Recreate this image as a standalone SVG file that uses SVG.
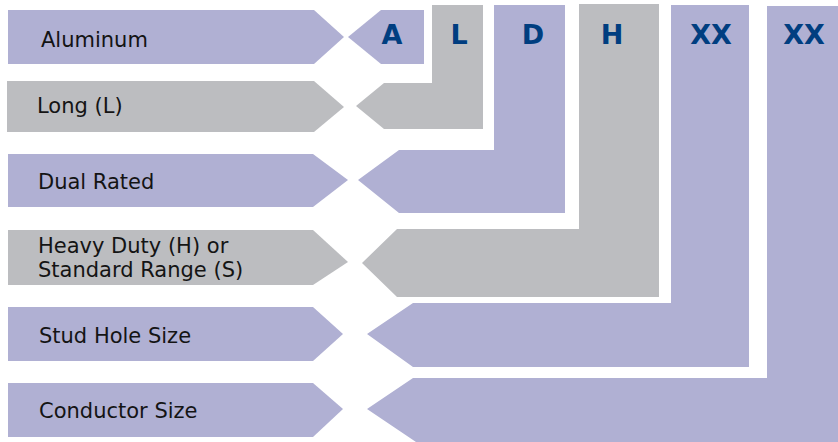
<svg xmlns="http://www.w3.org/2000/svg" width="838" height="442" viewBox="0 0 838 442">
<style>
.p{fill:#B0B0D3}
.g{fill:#BCBDC0}
.lbl{font-family:"DejaVu Sans","Liberation Sans",sans-serif;font-size:21px;fill:#141414}
.code{font-family:"DejaVu Sans","Liberation Sans",sans-serif;font-size:27px;font-weight:bold;fill:#003E80;text-anchor:middle}
</style>
<rect width="838" height="442" fill="#FFFFFF"/>
<g id="connectors"></g>
<g id="aluminum">
<polygon class="p" points="8,10 314,10 344,37 314,64 8,64"/>
<text class="lbl" x="41" y="47">Aluminum</text>
</g>
<g id="code-A">
<polygon class="p" points="348,37 381,10 424,10 424,64 381,64"/>
<text class="code" x="392" y="44">A</text>
</g>
<g id="long">
<polygon class="g" points="7,81 314,81 344,107 314,132 7,132"/>
<text class="lbl" x="37" y="113">Long (L)</text>
</g>
<g id="code-L">
<polygon class="g" points="432,5 483,5 483,129 384,129 356,106 384,83 432,83"/>
<text class="code" x="459" y="44">L</text>
</g>
<g id="dual-rated">
<polygon class="p" points="8,154 313,154 348,180 313,207 8,207"/>
<text class="lbl" x="38" y="189">Dual Rated</text>
</g>
<g id="code-D">
<polygon class="p" points="494,5 565,5 565,213 399,213 358,180 399,150 494,150"/>
<text class="code" x="533" y="44">D</text>
</g>
<g id="heavy-duty">
<polygon class="g" points="8,230 313,230 348,262 313,285 8,285"/>
<text class="lbl" x="38" y="253">Heavy Duty (H) or</text>
<text class="lbl" x="38" y="277">Standard Range (S)</text>
</g>
<g id="code-H">
<polygon class="g" points="579,4 659,4 659,297 397,297 362,263 397,229 579,229"/>
<text class="code" x="612" y="44">H</text>
</g>
<g id="stud-hole">
<polygon class="p" points="8,307 313,307 343,334 313,361 8,361"/>
<text class="lbl" x="39" y="343">Stud Hole Size</text>
</g>
<g id="code-XX1">
<polygon class="p" points="671,5 749,5 749,367 413,367 367,334 413,303 671,303"/>
<text class="code" x="711" y="44">XX</text>
</g>
<g id="conductor">
<polygon class="p" points="8,383 313,383 343,409 313,437 8,437"/>
<text class="lbl" x="39" y="418">Conductor Size</text>
</g>
<g id="code-XX2">
<polygon class="p" points="767,6 838,6 838,442 416,442 367,409 413,378 767,378"/>
<text class="code" x="804" y="44">XX</text>
</g>
</svg>
